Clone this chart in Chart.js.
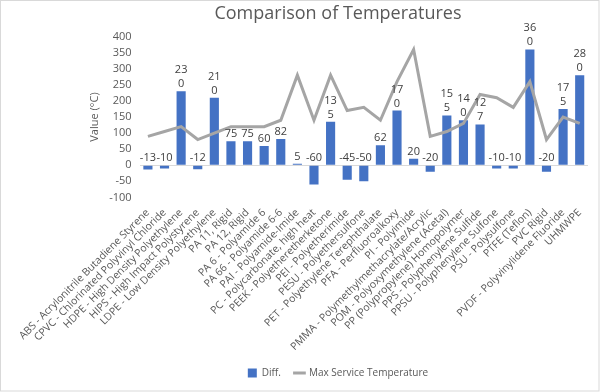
<!DOCTYPE html>
<html>
<head>
<meta charset="utf-8">
<script src="https://cdn.jsdelivr.net/npm/chart.js@4"></script>
<style>
  html, body { margin: 0; padding: 0; background: #fff; }
  #wrap { width: 600px; height: 392px; }
</style>
</head>
<body>
<div id="wrap"><canvas id="chart" width="600" height="392"></canvas></div>
<script>
const categories = [
  'ABS - Acrylonitrile Butadiene Styrene', 'CPVC - Chlorinated Polyvinyl Chloride',
  'HDPE - High Density Polyethylene', 'HIPS - High Impact Polystyrene',
  'LDPE - Low Density Polyethylene', 'PA 11, Rigid', 'PA 12, Rigid',
  'PA 6 - Polyamide 6', 'PA 66 - Polyamide 6-6', 'PAI - Polyamide-Imide',
  'PC - Polycarbonate, high heat', 'PEEK - Polyetheretherketone',
  'PEI - Polyetherimide', 'PESU - Polyethersulfone',
  'PET - Polyethylene Terephthalate', 'PFA - Perfluoroalkoxy', 'PI - Polyimide',
  'PMMA - Polymethylmethacrylate/Acrylic', 'POM - Polyoxymethylene (Acetal)',
  'PP (Polypropylene) Homopolymer', 'PPS - Polyphenylene Sulfide',
  'PPSU - Polyphenylene Sulfone', 'PSU - Polysulfone', 'PTFE (Teflon)',
  'PVC Rigid', 'PVDF - Polyvinylidene Fluoride', 'UHMWPE'
];
const diffValues = [-13, -10, 230, -12, 210, 75, 75, 60, 82, 5, -60, 135, -45, -50,
  62, 170, 20, -20, 155, 140, 127, -10, -10, 360, -20, 175, 280];
const maxServiceTemp = [90, 105, 120, 80, 100, 120, 120, 120, 140, 280, 140, 280, 170,
  180, 140, 260, 360, 90, 105, 130, 220, 210, 180, 260, 80, 150, 130];
const yTicks = [-100, 400, 50];

const FONT = "'Open Sans', 'Liberation Sans', sans-serif";

// Excel-like data labels: 3-digit positives wrap onto two lines
const barLabels = {
  id: 'barLabels',
  afterDatasetsDraw(chart) {
    const meta = chart.getDatasetMeta(0);
    const ctx = chart.ctx;
    const zeroY = chart.scales.y.getPixelForValue(0);
    ctx.save();
    ctx.font = '11px ' + FONT;
    ctx.fillStyle = '#404040';
    ctx.textAlign = 'center';
    ctx.textBaseline = 'alphabetic';
    meta.data.forEach((bar, i) => {
      const v = diffValues[i];
      const s = String(v);
      const base = (v >= 0 ? bar.y : zeroY) - 4;
      if (v >= 100) {
        ctx.fillText(s.slice(2), bar.x, base);
        ctx.fillText(s.slice(0, 2), bar.x, base - 14);
      } else {
        ctx.fillText(s, bar.x, base);
      }
    });
    ctx.restore();
  }
};

const frame = {
  id: 'frame',
  beforeDraw(chart) {
    const ctx = chart.ctx;
    ctx.save();
    ctx.fillStyle = '#fff';
    ctx.fillRect(0, 0, chart.width, chart.height);
    ctx.strokeStyle = '#d9d9d9';
    ctx.strokeRect(0.5, 0.5, chart.width - 1.5, chart.height - 1.5);
    ctx.restore();
  }
};

new Chart(document.getElementById('chart'), {
  data: {
    labels: categories,
    datasets: [
      {
        type: 'bar',
        label: 'Diff.',
        data: diffValues,
        backgroundColor: '#4472C4',
        barPercentage: 0.55,
        categoryPercentage: 1,
        order: 1
      },
      {
        type: 'line',
        label: 'Max Service Temperature',
        data: maxServiceTemp,
        borderColor: '#A5A5A5',
        backgroundColor: '#A5A5A5',
        borderWidth: 3,
        pointRadius: 0,
        tension: 0,
        order: 0
      }
    ]
  },
  options: {
    responsive: false,
    animation: false,
    layout: { padding: { left: 88, right: 12, top: 3, bottom: 4 } },
    plugins: {
      title: {
        display: true,
        text: 'Comparison of Temperatures',
        color: '#595959',
        font: { family: FONT, size: 18, weight: 'normal' },
        padding: { top: 0, bottom: 12 }
      },
      legend: {
        position: 'bottom',
        labels: {
          color: '#595959',
          font: { family: FONT, size: 10 },
          usePointStyle: true,
          boxWidth: 9,
          boxHeight: 9,
          padding: 14,
          generateLabels(chart) {
            return chart.data.datasets.map((ds, i) => ({
              text: ds.label,
              fillStyle: ds.type === 'bar' ? '#4472C4' : '#A5A5A5',
              strokeStyle: ds.type === 'bar' ? '#4472C4' : '#A5A5A5',
              lineWidth: ds.type === 'bar' ? 0 : 3,
              pointStyle: ds.type === 'bar' ? 'rect' : 'line',
              fontColor: '#595959',
              datasetIndex: i
            }));
          }
        }
      },
      tooltip: { enabled: false }
    },
    scales: {
      x: {
        grid: { display: false },
        border: { display: false },
        ticks: {
          color: '#595959',
          font: { family: FONT, size: 10.5 },
          autoSkip: false,
          minRotation: 45,
          maxRotation: 45,
          padding: 1
        }
      },
      y: {
        min: yTicks[0],
        max: yTicks[1],
        title: {
          display: true,
          text: 'Value (°C)',
          color: '#595959',
          font: { family: FONT, size: 11 },
          padding: { top: 0, bottom: 0 }
        },
        border: { display: false },
        grid: {
          drawTicks: false,
          color: c => (c.tick && c.tick.value === 0 ? '#d9d9d9' : 'rgba(0,0,0,0)'),
          lineWidth: 1
        },
        ticks: {
          stepSize: yTicks[2],
          autoSkip: false,
          color: '#595959',
          font: { family: FONT, size: 11 },
          padding: 8
        }
      }
    }
  },
  plugins: [frame, barLabels]
});
</script>
</body>
</html>
